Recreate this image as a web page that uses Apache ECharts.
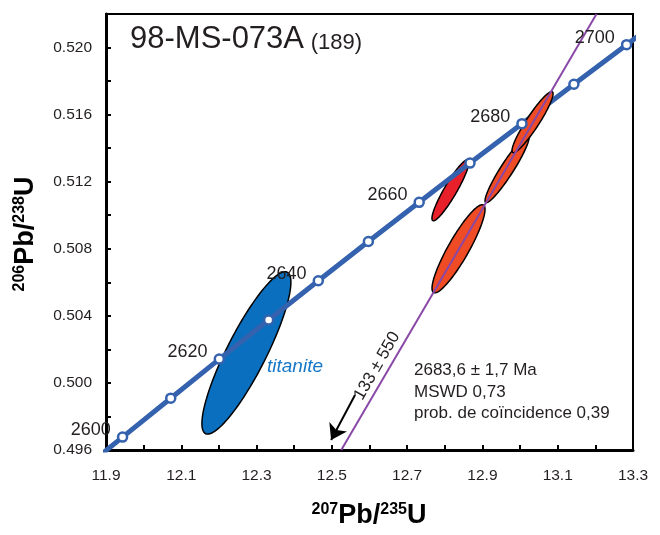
<!DOCTYPE html>
<html>
<head>
<meta charset="utf-8">
<script src="https://cdn.jsdelivr.net/npm/echarts@6/dist/echarts.min.js"></script>
<style>html,body{margin:0;padding:0;background:#fff}#c{width:660px;height:535px}</style>
</head>
<body>
<div id="c"></div>
<script>
// ---- data ----
const concordiaAges = [2600, 2610, 2620, 2630, 2640, 2650, 2660, 2670, 2680, 2690, 2700];
const concordiaX = [11.944, 12.072, 12.201, 12.332, 12.464, 12.597, 12.732, 12.867, 13.005, 13.143, 13.283];
const concordiaY = [0.49677, 0.49909, 0.50142, 0.50375, 0.50609, 0.50843, 0.51077, 0.51311, 0.51546, 0.51781, 0.52017];
const labelledAges = [2600, 2620, 2640, 2660, 2680, 2700];
// concordia curve incl. extensions beyond the frame
const curveX = [11.817, 11.944, 12.072, 12.201, 12.332, 12.464, 12.597, 12.732, 12.867, 13.005, 13.143, 13.283, 13.425];
const curveY = [0.49445, 0.49677, 0.49909, 0.50142, 0.50375, 0.50609, 0.50843, 0.51077, 0.51311, 0.51546, 0.51781, 0.52017, 0.52254];
// discordia (chord) end points
const discordiaX = [12.525, 13.203];
const discordiaY = [0.496, 0.522];
// error ellipses: centre, half-ranges, correlation
const titaniteEll = {cx: [12.273], cy: [0.50179], sx: [0.1182], sy: [0.00484], rho: [0.87]};
const redEll = {cx: [12.815], cy: [0.51149], sx: [0.0491], sy: [0.00182], rho: [0.92]};
const orangeEll = {cx: [12.8365, 12.9654, 13.0331], cy: [0.50800, 0.51275, 0.51555], sx: [0.0704, 0.0585, 0.0545], sy: [0.00263, 0.00200, 0.00182], rho: [0.895, 0.94, 0.93]};
// arrow to lower intercept
const arrowFrom = [12.5615, 0.49928];
const arrowTo = [12.498, 0.4966];
// axis
const xMin = 11.9, xMax = 13.3, yMin = 0.496, yMax = 0.522;
const sampleName = '98-MS-073A';
const sampleN = '(189)';
const statsLines = ['2683,6 ± 1,7 Ma', 'MSWD 0,73', 'prob. de coïncidence 0,39'];
const lowerInterceptText = '133 ± 550';
const mineralText = 'titanite';

const FONT = 'Arial, "Liberation Sans", sans-serif';
const TXT = '#231f20';

function ellData(e) {
  return e.cx.map((v, i) => [v, e.cy[i], e.sx[i], e.sy[i], e.rho[i]]);
}
function renderEllipse(params, api) {
  const cx = api.value(0), cy = api.value(1), sx = api.value(2), sy = api.value(3), r = api.value(4);
  const k = Math.sqrt(1 - r * r);
  const pts = [];
  for (let i = 0; i < 120; i++) {
    const t = i / 120 * 2 * Math.PI;
    pts.push(api.coord([cx + sx * Math.cos(t), cy + sy * (r * Math.cos(t) + k * Math.sin(t))]));
  }
  return {type: 'polygon', shape: {points: pts}, style: {fill: api.visual('color'), stroke: '#000', lineWidth: 1.5}};
}

const chart = echarts.init(document.getElementById('c'), null, {renderer: 'canvas'});
const option = {
  animation: false,
  backgroundColor: '#fff',
  grid: {left: 106, right: 27, top: 14, bottom: 85, show: true, borderColor: '#000', borderWidth: 2, backgroundColor: 'transparent'},
  xAxis: {
    type: 'value', min: xMin, max: xMax, interval: 0.1,
    axisLine: {show: true, onZero: false, lineStyle: {color: '#000', width: 3}},
    axisTick: {show: true, inside: true, length: 5, lineStyle: {color: '#000', width: 2}},
    splitLine: {show: false},
    axisLabel: {
      margin: 18, fontSize: 15.5, fontFamily: FONT, color: TXT,
      formatter: v => (Math.round(v * 10) % 2 === 1 ? v.toFixed(1) : '')
    }
  },
  yAxis: {
    type: 'value', min: yMin, max: yMax, interval: 0.002,
    axisLine: {show: true, onZero: false, lineStyle: {color: '#000', width: 3}},
    axisTick: {show: true, inside: true, length: 5, lineStyle: {color: '#000', width: 2}},
    splitLine: {show: false},
    axisLabel: {
      margin: 14, fontSize: 15.5, fontFamily: FONT, color: TXT,
      formatter: v => (Math.round(v * 1000) % 4 === 0 ? v.toFixed(3) : '')
    }
  },
  series: [
    {type: 'custom', name: 'titanite', renderItem: renderEllipse, data: ellData(titaniteEll), itemStyle: {color: '#0a6fbf'}, z: 1, encode: {x: 0, y: 1}},
    {type: 'custom', name: 'red', renderItem: renderEllipse, data: ellData(redEll), itemStyle: {color: '#e8202a'}, z: 1, encode: {x: 0, y: 1}},
    {type: 'line', name: 'concordia', data: curveX.map((x, i) => [x, curveY[i]]), showSymbol: false, clip: true,
      lineStyle: {color: '#3562ae', width: 5}, z: 2},
    {type: 'custom', name: 'zircon', renderItem: renderEllipse, data: ellData(orangeEll), itemStyle: {color: '#ef4b24'}, z: 3, encode: {x: 0, y: 1}},
    {type: 'line', name: 'discordia', data: discordiaX.map((x, i) => [x, discordiaY[i]]), showSymbol: false, clip: true,
      lineStyle: {color: '#8a48a6', width: 2}, z: 4},
    {type: 'scatter', name: 'ages', z: 5,
      data: concordiaAges.map((a, i) => ({
        value: [concordiaX[i], concordiaY[i]],
        label: {show: labelledAges.includes(a), formatter: String(a)}
      })),
      symbol: 'circle', symbolSize: 9,
      itemStyle: {color: '#fff', borderColor: '#3562ae', borderWidth: 2.5, opacity: 1},
      label: {position: 'left', distance: 6, offset: [0, -7], fontSize: 18, fontFamily: FONT, color: TXT}
    },
    {type: 'lines', coordinateSystem: 'cartesian2d', z: 5,
      data: [{coords: [arrowFrom, arrowTo]}],
      symbol: ['none', 'arrow'], symbolSize: [0, 15],
      lineStyle: {color: '#000', width: 2, opacity: 1}
    }
  ],
  graphic: [
    {type: 'text', left: 130, top: 24, z: 10,
      style: {text: '{a|' + sampleName + '}  {b|' + sampleN + '}', rich: {
        a: {fontSize: 31, fontFamily: FONT, fill: TXT, lineHeight: 34},
        b: {fontSize: 22, fontFamily: FONT, fill: TXT, lineHeight: 34, padding: [6, 0, 0, 0]}
      }}},
    {type: 'text', x: 414, y: 360, z: 10,
      style: {text: statsLines.join('\n'), fontSize: 17, lineHeight: 21.5, fontFamily: FONT, fill: TXT}},
    {type: 'text', x: 267, y: 357, z: 10,
      style: {text: mineralText, fontSize: 19, fontStyle: 'italic', fontFamily: FONT, fill: '#1677c7'}},
    {type: 'text', x: 377, y: 366, rotation: 60 * Math.PI / 180, z: 10,
      style: {text: lowerInterceptText, fontSize: 17, fontFamily: FONT, fill: TXT, align: 'center', verticalAlign: 'middle'}},
    {type: 'text', x: 369, y: 516, z: 10,
      style: {text: '{s|207}{m|Pb/}{s|235}{m|U}', align: 'center', verticalAlign: 'middle', rich: {
        m: {fontSize: 27, fontWeight: 'bold', fontFamily: FONT, fill: '#000', lineHeight: 30},
        s: {fontSize: 16, fontWeight: 'bold', fontFamily: FONT, fill: '#000', lineHeight: 30, padding: [0, 0, 12, 0]}
      }}},
    {type: 'text', x: 26, y: 234, rotation: Math.PI / 2, z: 10,
      style: {text: '{s|206}{m|Pb/}{s|238}{m|U}', align: 'center', verticalAlign: 'middle', rich: {
        m: {fontSize: 27, fontWeight: 'bold', fontFamily: FONT, fill: '#000', lineHeight: 30},
        s: {fontSize: 16, fontWeight: 'bold', fontFamily: FONT, fill: '#000', lineHeight: 30, padding: [0, 0, 12, 0]}
      }}}
  ]
};
chart.setOption(option);
</script>
</body>
</html>
